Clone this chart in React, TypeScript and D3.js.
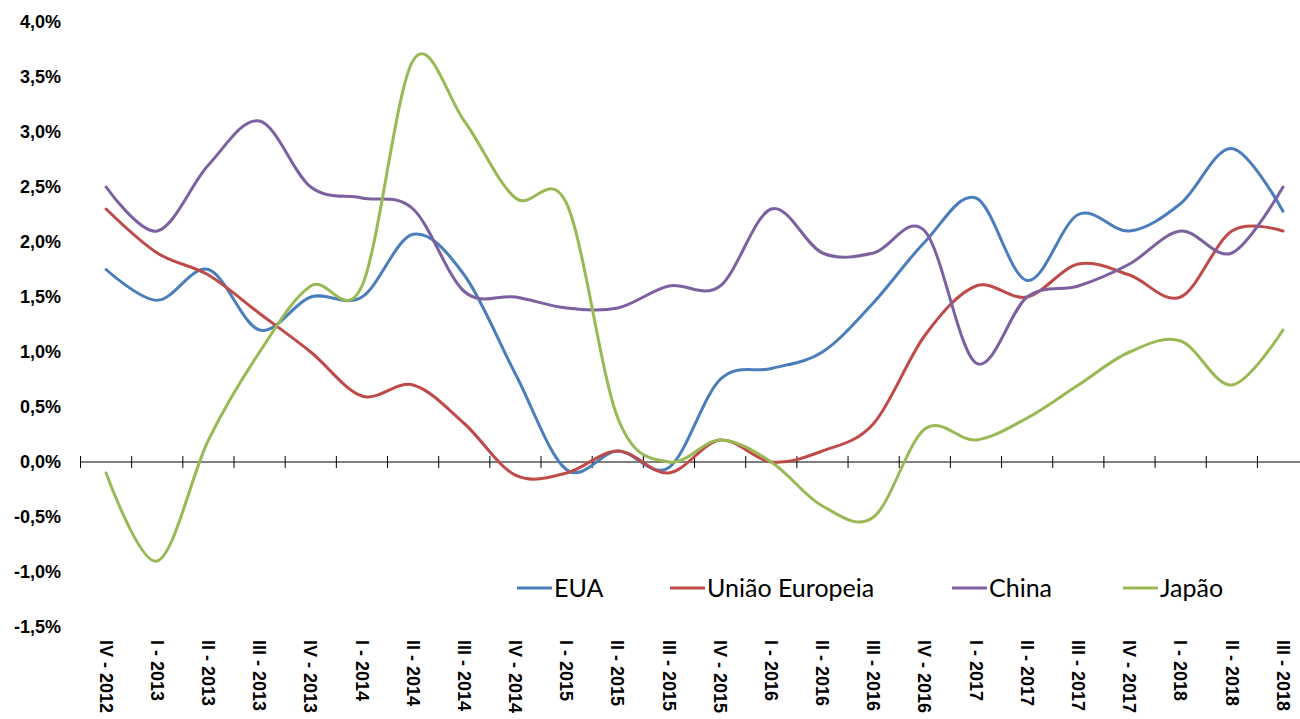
import React from 'react';
import * as d3 from 'd3';

const quarters = [
  'IV - 2012', 'I - 2013', 'II - 2013', 'III - 2013', 'IV - 2013',
  'I - 2014', 'II - 2014', 'III - 2014', 'IV - 2014',
  'I - 2015', 'II - 2015', 'III - 2015', 'IV - 2015',
  'I - 2016', 'II - 2016', 'III - 2016', 'IV - 2016',
  'I - 2017', 'II - 2017', 'III - 2017', 'IV - 2017',
  'I - 2018', 'II - 2018', 'III - 2018',
];

const eua = [1.75, 1.47, 1.75, 1.2, 1.5, 1.5, 2.07, 1.7, 0.8, -0.07, 0.1, -0.05, 0.75, 0.85, 1.0, 1.45, 2.0, 2.4, 1.65, 2.25, 2.1, 2.35, 2.85, 2.28];
const uniaoEuropeia = [2.3, 1.9, 1.7, 1.35, 1.0, 0.6, 0.7, 0.35, -0.12, -0.1, 0.1, -0.1, 0.2, 0.0, 0.1, 0.35, 1.15, 1.6, 1.5, 1.8, 1.7, 1.5, 2.1, 2.1];
const china = [2.5, 2.1, 2.7, 3.1, 2.5, 2.4, 2.3, 1.55, 1.5, 1.4, 1.4, 1.6, 1.6, 2.3, 1.9, 1.9, 2.1, 0.9, 1.5, 1.6, 1.8, 2.1, 1.9, 2.5];
const japao = [-0.1, -0.9, 0.2, 1.0, 1.6, 1.6, 3.65, 3.1, 2.4, 2.35, 0.4, 0.0, 0.2, 0.0, -0.4, -0.5, 0.3, 0.2, 0.4, 0.7, 1.0, 1.1, 0.7, 1.2];

const yTicks = [-1.5, -1.0, -0.5, 0, 0.5, 1.0, 1.5, 2.0, 2.5, 3.0, 3.5, 4.0];

const series = [
  { name: 'EUA', values: eua, color: '#4a7ebb', legendX: 517 },
  { name: 'União Europeia', values: uniaoEuropeia, color: '#be4b48', legendX: 670 },
  { name: 'China', values: china, color: '#7d60a0', legendX: 952 },
  { name: 'Japão', values: japao, color: '#98b954', legendX: 1123 },
];

const width = 1300;
const height = 719;

export default function App() {
  // band scale: ticks on the boundaries, points in the middle
  const x = d3.scaleBand<string>()
    .domain(quarters)
    .range([80.5, 80.5 + 24 * 51.17]);
  const y = d3.scaleLinear().domain([-1.5, 4.0]).range([627, 22]);

  const line = d3.line<number>()
    .x((_, i) => (x(quarters[i]) as number) + x.bandwidth() / 2)
    .y(d => y(d))
    .curve(d3.curveCardinal.tension(0));

  const fmt = (v: number) => v.toFixed(1).replace('.', ',') + '%';
  const y0 = y(0);

  return (
    <svg width={width} height={height} style={{ position: 'absolute', left: 0, top: 0, background: '#fff' }}>
      {/* y tick labels */}
      {yTicks.map(t => (
        <text key={t} x={61} y={y(t)} dy="0.35em" textAnchor="end"
          fontFamily="Liberation Sans, Arial, sans-serif" fontWeight="bold" fontSize={18} fill="#000">
          {fmt(t)}
        </text>
      ))}

      {/* zero axis with tick marks */}
      <line x1={80} x2={width} y1={y0} y2={y0} stroke="#000" strokeWidth={1} />
      {quarters.map(q => (
        <line key={q} x1={x(q)} x2={x(q)} y1={y0 - 6} y2={y0 + 6} stroke="#000" strokeWidth={1} />
      ))}

      {/* category labels, rotated */}
      {quarters.map(q => {
        const cx = (x(q) as number) + x.bandwidth() / 2;
        return (
          <text key={q} transform={`translate(${cx},640) rotate(90)`} dy="0.35em"
            fontFamily="Liberation Sans, Arial, sans-serif" fontWeight="bold" fontSize={18} fill="#000">
            {q}
          </text>
        );
      })}

      {/* series lines */}
      {series.map(s => (
        <path key={s.name} d={line(s.values) || ''} fill="none" stroke={s.color}
          strokeWidth={3} strokeLinejoin="round" strokeLinecap="round" />
      ))}

      {/* legend */}
      {series.map(s => (
        <g key={s.name} transform={`translate(${s.legendX},588)`}>
          <line x1={0} x2={35} y1={0} y2={0} stroke={s.color} strokeWidth={3} />
          <text x={37} dy="0.35em" fontFamily="Lato, sans-serif" fontSize={25} fill="#000">{s.name}</text>
        </g>
      ))}
    </svg>
  );
}
